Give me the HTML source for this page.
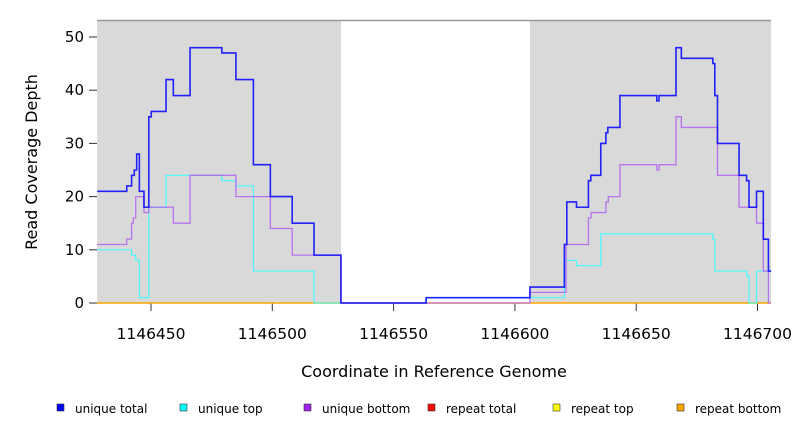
<!DOCTYPE html>
<html><head><meta charset="utf-8"><style>
body{margin:0;background:#fff;}
svg{display:block;font-family:"DejaVu Sans","Liberation Sans",sans-serif;}
</style></head><body>
<svg id="chart" width="792" height="432" viewBox="0 0 792 432"></svg>
<script>
const regionStarts=[1146427.8,1146606.2];
const regionEnds=[1146528.3,1146705.6];
const xTicks=[1146450,1146500,1146550,1146600,1146650,1146700];
const yTicks=[0,10,20,30,40,50];
const totalX=[1146427.8,1146440.0,1146442.0,1146443.1,1146444.1,1146445.2,1146447.1,1146449.1,1146450.1,1146456.2,1146459.2,1146466.1,1146479.2,1146485.0,1146492.2,1146499.2,1146508.2,1146517.2,1146528.3,1146563.4,1146606.2,1146620.4,1146621.4,1146625.4,1146630.3,1146631.3,1146635.4,1146637.5,1146638.3,1146643.3,1146658.5,1146659.4,1146666.4,1146668.6,1146681.6,1146682.4,1146683.5,1146692.4,1146695.5,1146696.5,1146699.6,1146702.4,1146704.5];
const totalY=[21,22,24,25,28,21,18,35,36,42,39,48,47,42,26,20,15,9,0,1,3,11,19,18,23,24,30,32,33,39,38,39,48,46,45,39,30,24,23,18,21,12,6];
const bottomX=[1146427.8,1146440.0,1146442.0,1146442.7,1146443.7,1146447.1,1146449.1,1146459.2,1146466.1,1146485.0,1146499.2,1146508.2,1146528.3,1146606.2,1146621.1,1146630.3,1146631.4,1146637.5,1146638.5,1146643.3,1146658.5,1146659.4,1146666.4,1146668.6,1146683.5,1146692.4,1146699.6,1146702.4,1146704.5];
const bottomY=[11,12,15,16,20,17,18,15,24,20,14,9,0,2,11,16,17,19,20,26,25,26,35,33,24,18,15,6,0];
const topX=[1146427.8,1146442.0,1146443.7,1146445.2,1146449.1,1146456.2,1146479.2,1146485.0,1146492.2,1146517.2,1146563.4,1146606.2,1146620.4,1146625.4,1146635.4,1146681.6,1146682.4,1146695.5,1146696.5,1146699.6];
const topY=[10,9,8,1,18,24,23,22,6,0,1,1,8,7,13,12,6,5,0,6];
const xEnd=1146705.6;
const legendLabels=["unique total","unique top","unique bottom","repeat total","repeat top","repeat bottom"];
const legendColors=["#0000ff","#00ffff","#a020f0","#ff0000","#ffff00","#ffa500"];

const NS="http://www.w3.org/2000/svg";
const svg=document.getElementById('chart');
const sx=c=>151+(c-1146450)*2.426;
const sy=v=>303-v*5.32;
function mk(t,a){const e=document.createElementNS(NS,t);for(const k in a)e.setAttribute(k,a[k]);svg.appendChild(e);return e;}

const L=97,R=771,T=20,B=303;
for(let i=0;i<regionStarts.length;i++){
  const r=mk('rect',{x:sx(regionStarts[i]),y:T,width:sx(regionEnds[i])-sx(regionStarts[i]),height:B-T,fill:'#d9d9d9'});
  
  
}
const tl=mk('line',{x1:L,x2:R,y1:T+0.5,y2:T+0.5,stroke:'#999','stroke-width':1.5});



yTicks.forEach(v=>{
  const y=sy(v);
  const l=mk('line',{x1:89,x2:L,y1:y,y2:y,stroke:'#333','stroke-width':1});
  
  
  const t=mk('text',{x:84,y:y+5,'text-anchor':'end','font-size':15,fill:'#000'});
  t.textContent=v;
  
  
});
xTicks.forEach(v=>{
  const x=sx(v);
  const l=mk('line',{x1:x,x2:x,y1:B,y2:311,stroke:'#333','stroke-width':1});
  
  
  const t=mk('text',{x:x,y:339,'text-anchor':'middle','font-size':15.5,fill:'#000'});
  t.textContent=v;
  
  
});
const xt=mk('text',{x:434,y:377,'text-anchor':'middle','font-size':16,fill:'#000'});
xt.textContent='Coordinate in Reference Genome';


const yt=mk('text',{x:37,y:162,'text-anchor':'middle','font-size':16,fill:'#000',transform:'rotate(-90 37 162)'});
yt.textContent='Read Coverage Depth';



const z=mk('line',{x1:L,x2:R,y1:sy(0),y2:sy(0),stroke:'#ffa500','stroke-width':1.5});



function step(xs,ys){
  let d='M'+sx(xs[0])+','+sy(ys[0]);
  for(let i=0;i<xs.length;i++){
    const xe=i+1<xs.length?xs[i+1]:xEnd;
    if(i>0)d+=' L'+sx(xs[i])+','+sy(ys[i]);
    d+=' L'+sx(xe)+','+sy(ys[i]);
  }
  return d;
}
const series=[[topX,topY,'#33ffff',1.2,'unique-top-line'],[bottomX,bottomY,'#b060f0',1.3,'unique-bottom-line'],[totalX,totalY,'#0000ff',1.6,'unique-total-line']];
series.forEach(s=>{
  const p=mk('path',{d:step(s[0],s[1]),fill:'none',stroke:s[2],'stroke-width':s[3],'stroke-opacity':0.85});
  
  
});

const lx=[57,180,304,428,553,677];
legendLabels.forEach((lab,i)=>{
  const r=mk('rect',{x:lx[i],y:404,width:7,height:7,fill:legendColors[i],stroke:'#333','stroke-width':0.6});
  
  
  const t=mk('text',{x:lx[i]+18,y:413,'font-size':12,fill:'#000'});
  t.textContent=lab;
  
  
});
</script>
</body></html>
